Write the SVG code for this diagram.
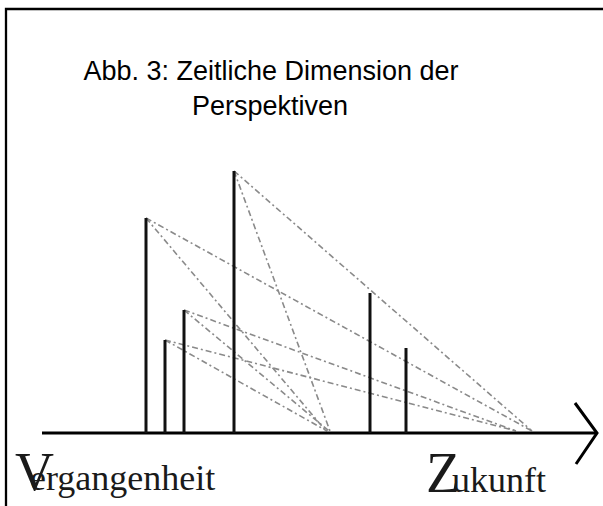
<svg xmlns="http://www.w3.org/2000/svg" width="603" height="506" viewBox="0 0 603 506">
<style>
.title{font-family:"Liberation Sans",Arial,sans-serif;font-size:27px;fill:#000;text-anchor:middle}
.serif{font-family:"Liberation Serif","Times New Roman",serif;fill:#1a1a1a}
.post{stroke:#111;stroke-width:3;fill:none}
.dash{stroke:#8a8a8a;stroke-width:1.6;fill:none;stroke-dasharray:6 3 2 3}
</style>
<rect x="0" y="0" width="603" height="506" fill="#fff"/>
<path d="M6 506 V9 H603" fill="none" stroke="#000" stroke-width="2.3"/>
<g id="title">
<text class="title" x="271" y="80">Abb. 3: Zeitliche Dimension der</text>
<text class="title" x="270" y="115">Perspektiven</text>
</g>
<g id="connectors">
<line class="dash" x1="146" y1="218" x2="532" y2="431"/>
<line class="dash" x1="146" y1="218" x2="326" y2="431"/>
<line class="dash" x1="234" y1="171" x2="532" y2="431"/>
<line class="dash" x1="234" y1="171" x2="330" y2="431"/>
<line class="dash" x1="184" y1="310" x2="516" y2="431"/>
<line class="dash" x1="184" y1="310" x2="329" y2="431"/>
<line class="dash" x1="165" y1="340" x2="516" y2="431"/>
<line class="dash" x1="165" y1="340" x2="327" y2="431"/>
</g>
<g id="axis">
<line x1="42" y1="433" x2="596" y2="433" stroke="#000" stroke-width="3"/>
<polyline points="575,403 597,433 576,464" fill="none" stroke="#000" stroke-width="3"/>
</g>
<g id="p1"><line class="post" x1="146" y1="218" x2="146" y2="433"/></g>
<g id="p2"><line class="post" x1="165" y1="340" x2="165" y2="433"/></g>
<g id="p3"><line class="post" x1="184" y1="310" x2="184" y2="433"/></g>
<g id="p4"><line class="post" x1="234" y1="171" x2="234" y2="433"/></g>
<g id="p5"><line class="post" x1="370" y1="293" x2="370" y2="433"/></g>
<g id="p6"><line class="post" x1="406" y1="348" x2="406" y2="433"/></g>
<g id="label-past">
<text class="serif" x="15" y="490" font-size="54">V<tspan x="30" font-size="36">ergangenheit</tspan></text>
</g>
<g id="label-future">
<text class="serif" x="426" y="492" font-size="56">Z<tspan x="452" font-size="36">ukunft</tspan></text>
</g>
</svg>
